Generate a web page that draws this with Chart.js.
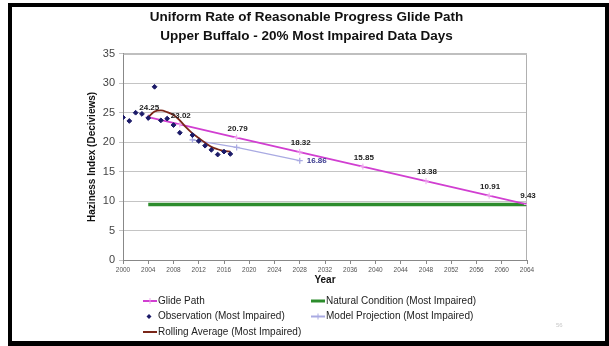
<!DOCTYPE html>
<html>
<head>
<meta charset="utf-8">
<script src="https://cdn.jsdelivr.net/npm/chart.js@4.4.1/dist/chart.umd.min.js"></script>
<style>
  html, body { margin: 0; padding: 0; background: #fff; }
  #wrap { position: relative; width: 609px; height: 346px; overflow: hidden; }
  #frame { position: absolute; left: 8px; top: 3px; width: 593px; height: 334px;
           border: 4px solid #000; border-bottom-width: 5px; pointer-events: none; }
  canvas { position: absolute; left: 0; top: 0; }
</style>
</head>
<body>
<div id="wrap">
  <canvas id="chart" width="609" height="346"></canvas>
  <div id="frame"></div>
</div>
<script>
// values
const xTicks = [2000, 2064, 4];        // min, max, step
const yTicks = [0, 35, 5];

const glideYears  = [2004, 2009, 2018, 2028, 2038, 2048, 2058, 2064];
const glideValues = [24.25, 23.02, 20.79, 18.32, 15.85, 13.38, 10.91, 9.43];

const naturalYears  = [2004, 2064];
const naturalValues = [9.43, 9.43];

const obsYears  = [2000, 2001, 2002, 2003, 2004, 2005, 2006, 2007, 2008, 2009,
                   2011, 2012, 2013, 2014, 2015, 2016, 2017];
const obsValues = [24.2, 23.6, 25.0, 24.8, 24.1, 29.4, 23.7, 24.0, 22.9, 21.6,
                   21.2, 20.2, 19.4, 18.7, 17.9, 18.4, 18.0];

const modelYears  = [2011, 2018, 2028];
const modelValues = [20.4, 19.1, 16.86];

const rollingYears  = [2004, 2005, 2006, 2007, 2008, 2009, 2010, 2011, 2012, 2013, 2014, 2015, 2016, 2017];
const rollingValues = [24.25, 25.2, 25.4, 25.1, 24.6, 23.7, 22.5, 21.5, 20.7, 19.9, 19.2, 18.8, 18.5, 18.4];

const FONT = '"Liberation Sans", Arial, sans-serif';
const pts = (xs, ys) => xs.map((x, i) => ({ x: x, y: ys[i] }));

const colors = {
  glide: '#D13FD1', glideMark: '#EFA6EF',
  natural: '#2C8C2C',
  obs: '#1B1A68',
  model: '#A9AAE2',
  rolling: '#7A2619'
};

const datasets = [
  { label: 'Glide Path', data: pts(glideYears, glideValues), borderColor: colors.glide,
    borderWidth: 1.8, pointStyle: 'cross', pointRadius: 3, pointBorderColor: colors.glideMark,
    pointBorderWidth: 1, showLine: true, order: 3 },
  { label: 'Natural Condition (Most Impaired)', data: pts(naturalYears, naturalValues),
    borderColor: colors.natural, borderWidth: 3.5, pointRadius: 0, showLine: true, order: 5 },
  { label: 'Observation (Most Impaired)', data: pts(obsYears, obsValues), borderColor: colors.obs,
    backgroundColor: colors.obs, pointStyle: 'rectRot', pointRadius: 2.4, showLine: false, order: 1 },
  { label: 'Model Projection (Most Impaired)', data: pts(modelYears, modelValues),
    borderColor: colors.model, borderWidth: 1.3, pointStyle: 'cross', pointRadius: 3,
    pointBorderColor: colors.model, showLine: true, order: 4 },
  { label: 'Rolling Average (Most Impaired)', data: pts(rollingYears, rollingValues),
    borderColor: colors.rolling, borderWidth: 1.8, pointRadius: 0, tension: 0.4,
    cubicInterpolationMode: 'monotone', showLine: true, order: 2 }
];

// value labels on the glide path and model projection end point
const valueLabels = {
  id: 'valueLabels',
  afterDatasetsDraw(chart) {
    const ctx = chart.ctx;
    ctx.save();
    ctx.font = 'bold 8px ' + FONT;
    ctx.textBaseline = 'middle';
    ctx.textAlign = 'center';
    ctx.fillStyle = '#222';
    chart.getDatasetMeta(0).data.forEach((p, i) => {
      ctx.fillText(glideValues[i].toFixed(2), p.x + 1, p.y - 9);
    });
    const m = chart.getDatasetMeta(3).data;
    const last = m[m.length - 1];
    ctx.textAlign = 'left';
    ctx.fillStyle = '#3A3A8E';
    ctx.fillText(modelValues[modelValues.length - 1].toFixed(2), last.x + 7, last.y);
    ctx.restore();
  }
};

// top/right border of the plot area
const plotFrame = {
  id: 'plotFrame',
  beforeDatasetsDraw(chart) {
    const a = chart.chartArea, ctx = chart.ctx;
    ctx.save();
    ctx.strokeStyle = '#B0B0B0';
    ctx.lineWidth = 1;
    ctx.beginPath();
    ctx.moveTo(a.left, a.top + 0.5);
    ctx.lineTo(a.right - 0.5, a.top + 0.5);
    ctx.lineTo(a.right - 0.5, a.bottom);
    ctx.stroke();
    ctx.restore();
  }
};

// two-column legend under the chart
const bottomLegend = {
  id: 'bottomLegend',
  afterDraw(chart) {
    const ctx = chart.ctx;
    const cols = [143, 311];
    const rows = [301, 316.5, 332];
    const slots = [[0, 0, 0], [1, 1, 0], [2, 0, 1], [3, 1, 1], [4, 0, 2]];
    ctx.save();
    ctx.font = '10px ' + FONT;
    ctx.textBaseline = 'middle';
    ctx.fillStyle = '#222';
    slots.forEach(([di, c, r]) => {
      const ds = chart.data.datasets[di];
      const x = cols[c], y = rows[r];
      if (ds.showLine) {
        ctx.strokeStyle = ds.borderColor;
        ctx.lineWidth = di === 1 ? 3 : 2;
        ctx.beginPath();
        ctx.moveTo(x, y); ctx.lineTo(x + 14, y);
        ctx.stroke();
        if (ds.pointStyle === 'cross') {
          ctx.strokeStyle = ds.pointBorderColor;
          ctx.lineWidth = 1;
          ctx.beginPath();
          ctx.moveTo(x + 7, y - 3); ctx.lineTo(x + 7, y + 3);
          ctx.stroke();
        }
      } else {
        ctx.fillStyle = ds.backgroundColor;
        ctx.beginPath();
        ctx.moveTo(x + 6, y - 2.5); ctx.lineTo(x + 8.5, y);
        ctx.lineTo(x + 6, y + 2.5); ctx.lineTo(x + 3.5, y);
        ctx.closePath(); ctx.fill();
        ctx.fillStyle = '#222';
      }
      ctx.fillText(ds.label, x + 15, y);
    });
    // slide page number
    ctx.font = '6px ' + FONT;
    ctx.fillStyle = '#C8C8C8';
    ctx.fillText('56', 556, 325);
    ctx.restore();
  }
};

new Chart(document.getElementById('chart'), {
  type: 'scatter',
  data: { datasets: datasets },
  plugins: [plotFrame, valueLabels, bottomLegend],
  options: {
    responsive: false,
    animation: false,
    layout: { padding: { left: 86, right: 82, top: 0, bottom: 58 } },
    plugins: {
      legend: { display: false },
      tooltip: { enabled: false },
      title: {
        display: true,
        text: ['Uniform Rate of Reasonable Progress Glide Path',
               'Upper Buffalo - 20% Most Impaired Data Days'],
        color: '#111',
        font: { family: FONT, size: 13.5, weight: 'bold', lineHeight: 1.4 },
        padding: { top: 8, bottom: 8 }
      }
    },
    scales: {
      x: {
        type: 'linear',
        min: xTicks[0], max: xTicks[1],
        afterFit: s => { s.height = 28; },
        border: { color: '#888', width: 1 },
        grid: { drawOnChartArea: false, drawTicks: true, tickLength: 4, color: '#888' },
        ticks: { stepSize: xTicks[2], color: '#555', padding: 2,
                 font: { family: FONT, size: 6.5 }, callback: v => String(v) },
        title: { display: true, text: 'Year', color: '#111',
                 font: { family: FONT, size: 10, weight: 'bold' }, padding: { top: 0, bottom: 2 } }
      },
      y: {
        min: yTicks[0], max: yTicks[1],
        afterFit: s => { s.width = 37; },
        border: { color: '#888', width: 1 },
        grid: { color: '#C4C4C4', tickLength: 4, drawTicks: true },
        ticks: { stepSize: yTicks[2], color: '#444', padding: 4,
                 font: { family: FONT, size: 11 } },
        title: { display: true, text: 'Haziness Index (Deciviews)', color: '#111',
                 font: { family: FONT, size: 10, weight: 'bold' }, padding: { top: 0, bottom: 0 } }
      }
    }
  }
});
</script>
</body>
</html>
